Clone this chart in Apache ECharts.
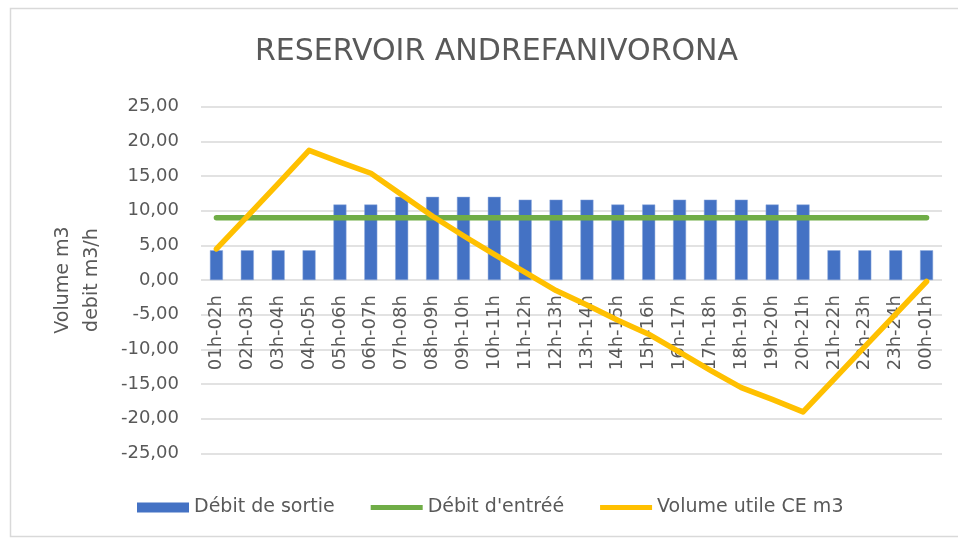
<!DOCTYPE html>
<html>
<head>
<meta charset="utf-8">
<script src="https://cdn.jsdelivr.net/npm/echarts@6/dist/echarts.min.js"></script>
<style>
  html, body { margin: 0; padding: 0; background: #ffffff; }
  #chart { width: 958px; height: 540px; }
</style>
</head>
<body>
<div id="chart"></div>
<script>
// Hourly slots
const hours = ['01h-02h','02h-03h','03h-04h','04h-05h','05h-06h','06h-07h','07h-08h','08h-09h',
  '09h-10h','10h-11h','11h-12h','12h-13h','13h-14h','14h-15h','15h-16h','16h-17h',
  '17h-18h','18h-19h','19h-20h','20h-21h','21h-22h','22h-23h','23h-24h','00h-01h'];

// Outflow (m3/h)
const debitSortie = [4.3, 4.3, 4.3, 4.3, 10.9, 10.9, 12.0, 12.0, 12.0, 12.0, 11.6, 11.6,
  11.6, 10.9, 10.9, 11.6, 11.6, 11.6, 10.9, 10.9, 4.3, 4.3, 4.3, 4.3];

// Inflow (m3/h)
const debitEntree = [9, 9, 9, 9, 9, 9, 9, 9, 9, 9, 9, 9, 9, 9, 9, 9, 9, 9, 9, 9, 9, 9, 9, 9];

// Usable volume (m3)
const volumeUtile = [4.5, 9.2, 13.9, 18.7, 17.0, 15.4, 12.3, 9.2, 6.4, 3.7, 1.1, -1.5,
  -3.6, -5.8, -7.8, -10.4, -13.0, -15.5, -17.2, -19.0, -14.3, -9.6, -4.9, -0.2];

// Value axis ticks
const yTicks = [-25, -20, -15, -10, -5, 0, 5, 10, 15, 20, 25];

const txt = '#595959';
const font = 'DejaVu Sans';

const gridTop = 106.7;
const gridBottom = 86.5;
const plotHeight = 540 - gridTop - gridBottom;
// Category labels sit just under the zero line, so lift the axis from the bottom edge
const zeroShift = plotHeight * (0 - yTicks[0]) / (yTicks[yTicks.length - 1] - yTicks[0]);

const chart = echarts.init(document.getElementById('chart'), null, { renderer: 'canvas' });
chart.setOption({
  animation: false,
  backgroundColor: '#ffffff',
  textStyle: { fontFamily: font, color: txt },
  graphic: [{
    type: 'rect',
    shape: { x: 10.5, y: 8.5, width: 980, height: 528 },
    style: { fill: 'none', stroke: '#d9d9d9', lineWidth: 1.5 },
    silent: true
  }],
  title: {
    text: 'RESERVOIR ANDREFANIVORONA',
    left: 250,
    top: 32,
    textStyle: { fontFamily: font, fontSize: 30, fontWeight: 'normal', color: txt }
  },
  legend: {
    bottom: 18,
    left: 132,
    itemGap: 36,
    itemWidth: 52,
    itemHeight: 10,
    textStyle: { fontFamily: font, fontSize: 19, color: txt, padding: [0, 0, 0, 0] },
    data: [
      { name: 'Débit de sortie', icon: 'rect', itemStyle: { color: '#4472C4', borderWidth: 0 } },
      { name: "Débit d'entréé", icon: 'path://M0,0 L52,0 L52,5 L0,5 Z', itemStyle: { color: '#70AD47' } },
      { name: 'Volume utile CE m3', icon: 'path://M0,0 L52,0 L52,5 L0,5 Z', itemStyle: { color: '#FFC000' } }
    ]
  },
  grid: { left: 201, right: 16, top: gridTop, bottom: gridBottom, containLabel: false },
  xAxis: {
    type: 'category',
    data: hours,
    boundaryGap: true,
    position: 'bottom',
    offset: -zeroShift,
    axisLine: { show: false, onZero: false },
    axisTick: { show: false },
    axisLabel: { rotate: 90, margin: 15, fontSize: 18, color: txt, fontFamily: font, interval: 0 }
  },
  yAxis: {
    type: 'value',
    min: yTicks[0],
    max: yTicks[yTicks.length - 1],
    interval: 5,
    name: 'Volume m3\ndebit m3/h',
    nameLocation: 'middle',
    nameRotate: 90,
    nameGap: 94,
    nameTextStyle: { fontFamily: font, fontSize: 19, color: txt, lineHeight: 29, align: 'center' },
    axisLine: { show: false },
    axisTick: { show: false },
    splitLine: { lineStyle: { color: '#d9d9d9', width: 1.5 } },
    axisLabel: {
      margin: 22,
      fontSize: 18,
      color: txt,
      fontFamily: font,
      formatter: v => v.toFixed(2).replace('.', ',')
    }
  },
  series: [
    {
      name: 'Débit de sortie',
      type: 'bar',
      data: debitSortie,
      barWidth: 13,
      itemStyle: { color: '#4472C4', borderColor: '#8faadc', borderWidth: 0.5 },
      z: 2
    },
    {
      name: "Débit d'entréé",
      type: 'line',
      data: debitEntree,
      symbol: 'none',
      lineStyle: { color: '#70AD47', width: 5.5, cap: 'round', join: 'round' },
      itemStyle: { color: '#70AD47' },
      z: 3
    },
    {
      name: 'Volume utile CE m3',
      type: 'line',
      data: volumeUtile,
      symbol: 'none',
      lineStyle: { color: '#FFC000', width: 5.5, cap: 'round', join: 'round' },
      itemStyle: { color: '#FFC000' },
      z: 4
    }
  ]
});
</script>
</body>
</html>
